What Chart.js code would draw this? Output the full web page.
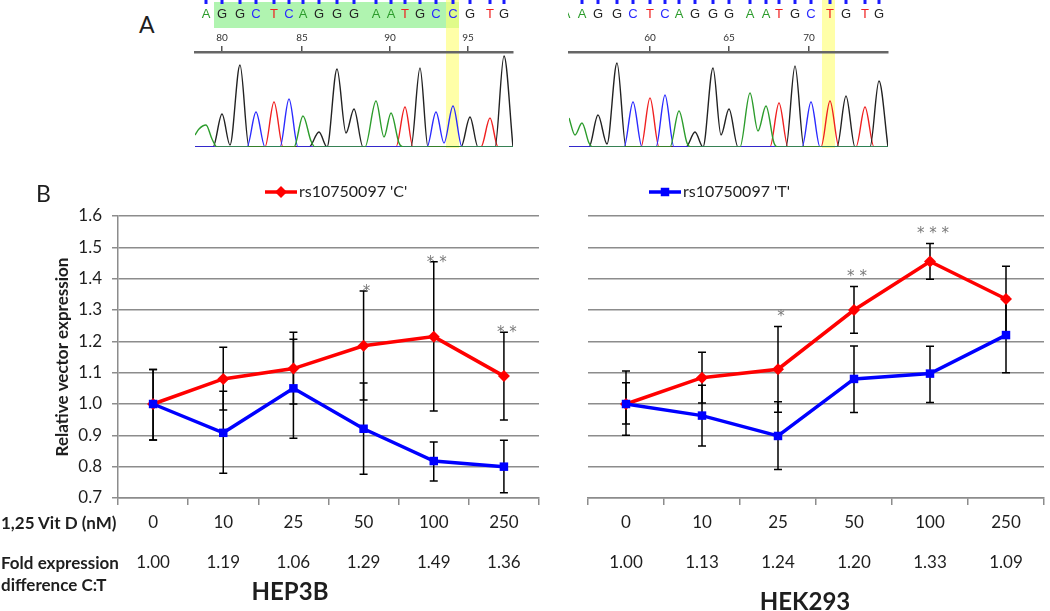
<!DOCTYPE html>
<html>
<head>
<meta charset="utf-8">
<script src="https://cdn.jsdelivr.net/npm/chart.js@4.4.1/dist/chart.umd.min.js"></script>
<style>
  body { margin: 0; background: #fff; }
  #wrap { position: relative; width: 1050px; height: 611px; overflow: hidden;
          font-family: Lato, "Open Sans", sans-serif; color: #1e1e1e; }
  .box { position: absolute; }
  .lbl { position: absolute; white-space: nowrap; line-height: 1; }
</style>
</head>
<body>
<div id="wrap">
  <div class="box" style="left:190px;top:0;width:330px;height:160px"><canvas id="chromL"></canvas></div>
  <div class="box" style="left:560px;top:0;width:335px;height:160px"><canvas id="chromR"></canvas></div>
  <div class="box" style="left:0;top:160px;width:545px;height:451px"><canvas id="hep"></canvas></div>
  <div class="box" style="left:545px;top:160px;width:505px;height:451px"><canvas id="hek"></canvas></div>

  <div class="lbl" style="left:139px;top:13px;font-size:23px">A</div>
  <div class="lbl" style="left:36px;top:182px;font-size:23px">B</div>
  <div class="lbl" style="left:1px;top:514px;font-size:17px;font-weight:bold">1,25 Vit D (nM)</div>
  <div class="lbl" style="left:1px;top:554px;font-size:17px;font-weight:bold">Fold expression</div>
  <div class="lbl" style="left:1px;top:576px;font-size:17px;font-weight:bold">difference C:T</div>
  <div class="lbl" style="left:190px;width:200px;text-align:center;top:579px;font-size:24px;font-weight:bold">HEP3B</div>
  <div class="lbl" style="left:705px;width:200px;text-align:center;top:589px;font-size:24px;font-weight:bold">HEK293</div>
</div>
<script>
// ---- panel B data ----
const doses = ['0', '10', '25', '50', '100', '250'];

const hepC   = [1.00, 1.08, 1.113, 1.186, 1.215, 1.089];
const hepCHi = [1.11, 1.181, 1.229, 1.361, 1.454, 1.229];
const hepCLo = [0.885, 0.981, 1.0, 1.013, 0.978, 0.949];
const hepT   = [1.00, 0.908, 1.05, 0.921, 0.818, 0.80];
const hepTHi = [1.11, 1.041, 1.207, 1.067, 0.879, 0.884];
const hepTLo = [0.885, 0.779, 0.891, 0.776, 0.754, 0.717];
const hepStars = ['', '', '', '*', '**', '**'];
const hepFold  = ['1.00', '1.19', '1.06', '1.29', '1.49', '1.36'];

const hekC   = [1.00, 1.084, 1.111, 1.30, 1.455, 1.335];
const hekCHi = [1.068, 1.165, 1.247, 1.375, 1.512, 1.44];
const hekCLo = [0.936, 1.003, 0.974, 1.226, 1.398, 1.23];
const hekT   = [1.00, 0.963, 0.898, 1.08, 1.097, 1.22];
const hekTHi = [1.105, 1.06, 1.007, 1.185, 1.184, 1.34];
const hekTLo = [0.90, 0.866, 0.791, 0.973, 1.005, 1.10];
const hekStars = ['', '', '*', '**', '***', ''];
const hekFold  = ['1.00', '1.13', '1.24', '1.20', '1.33', '1.09'];

const yTicks = [0.7, 0.8, 0.9, 1.0, 1.1, 1.2, 1.3, 1.4, 1.5, 1.6];

// ---- panel A data (scan position, signal) ----
const callsL   = 'AGGCTCAGGGAATGCCGTG';
const callPosL = [11, 27, 45, 61, 79, 94, 108, 124, 142, 159, 181, 196, 210, 225, 241, 258, 275, 295, 309];
const rulerPosL = [27, 107, 195, 273];
const rulerLblL = ['80', '85', '90', '95'];
const greenBoxL = [19, 264];
const yellowL   = [251, 264];
const traceAL = [[0,12],[4,18],[11,22],[17,8],[22,0],[99,0],[108,31],[116,6],[120,0],[170,0],[181,46],[189,10],[196,34],[204,4],[208,0],[318,0]];
const traceCL = [[0,0],[52,0],[61,35],[70,0],[85,0],[94,48],[103,0],[232,0],[241,35],[249,4],[258,41],[267,0],[318,0]];
const traceGL = [[0,0],[18,0],[27,33],[35,2],[45,82],[54,0],[114,0],[124,15],[132,0],[142,78],[151,14],[159,38],[168,0],[216,0],[225,79],[233,0],[266,0],[275,30],[283,0],[300,0],[309,91],[318,0]];
const traceTL = [[0,0],[70,0],[79,45],[88,0],[201,0],[210,40],[218,0],[286,0],[295,29],[303,0],[318,0]];

const callsR   = 'AAGGCTCAGGGAATGCTGTG';
const callPosR = [-3, 13, 29, 48, 64, 81, 96, 110, 126, 144, 160, 181, 197, 210, 226, 242, 261, 277, 296, 310];
const rulerPosR = [81, 160, 240];
const rulerLblR = ['60', '65', '70'];
const yellowR   = [253, 266];
const traceAR = [[0,29],[6,12],[13,24],[20,4],[24,0],[101,0],[110,36],[118,4],[122,0],[171,0],[181,54],[189,16],[197,41],[205,4],[209,0],[319,0]];
const traceCR = [[0,0],[55,0],[64,45],[73,0],[87,0],[96,52],[105,0],[233,0],[242,45],[251,0],[319,0]];
const traceGR = [[0,0],[20,0],[29,32],[38,3],[48,84],[57,0],[117,0],[126,15],[134,0],[144,79],[152,12],[160,38],[169,0],[217,0],[226,81],[235,0],[268,0],[277,51],[286,0],[301,0],[310,66],[319,0]];
const traceTR = [[0,0],[72,0],[81,49],[90,0],[201,0],[210,44],[219,0],[252,0],[261,46],[270,0],[287,0],[296,40],[305,0],[319,0]];

Chart.defaults.font.family = 'Lato, "Open Sans", sans-serif';
Chart.defaults.color = '#1e1e1e';

const baseColors = { A: '#2c9c2c', C: '#2a2aff', G: '#222222', T: '#f02020' };

// letters, quality dashes and highlight bands above the traces
const basecalls = {
  id: 'basecalls',
  beforeDraw(chart, args, o) {
    const { ctx } = chart;
    const x = chart.scales.x;
    const base = chart.scales.y.getPixelForValue(0);
    const area = chart.chartArea;
    ctx.save();
    ctx.beginPath();
    ctx.rect(area.left - 1, 0, area.right - area.left + 2, chart.height);
    ctx.clip();
    if (o.green) {
      ctx.fillStyle = 'rgba(150,240,150,0.75)';
      const a = x.getPixelForValue(o.green[0]), b = x.getPixelForValue(o.green[1]);
      ctx.fillRect(a, 2, b - a, 26);
    }
    ctx.fillStyle = 'rgba(255,255,110,0.6)';
    const ya = x.getPixelForValue(o.yellow[0]), yb = x.getPixelForValue(o.yellow[1]);
    ctx.fillRect(ya, 0, yb - ya, base + 1);
    ctx.font = '13px "Liberation Sans", Arial, sans-serif';
    ctx.textAlign = 'center';
    ctx.textBaseline = 'middle';
    o.calls.split('').forEach((c, i) => {
      const px = x.getPixelForValue(o.pos[i]);
      ctx.fillStyle = '#1a1aff';
      ctx.fillRect(px - 1.5, 0, 3, 4);
      ctx.fillStyle = baseColors[c];
      ctx.fillText(c, px, 14);
    });
    ctx.restore();
  }
};

function chrom(id, traces, maxX, ruler, labels, pad, opts) {
  const order = ['A', 'C', 'G', 'T'];
  return new Chart(document.getElementById(id), {
    type: 'line',
    data: {
      datasets: traces.map((t, i) => ({
        data: t,
        borderColor: baseColors[order[i]],
        borderWidth: 1.4,
        pointRadius: 0,
        cubicInterpolationMode: 'monotone'
      }))
    },
    options: {
      animation: false, responsive: true, maintainAspectRatio: false,
      layout: { padding: { left: pad[0], right: pad[1], top: 0, bottom: 13 } },
      plugins: { legend: { display: false }, tooltip: { enabled: false }, basecalls: opts },
      scales: {
        x: {
          type: 'linear', position: 'top', min: 0, max: maxX,
          afterBuildTicks: s => { s.ticks = ruler.map(v => ({ value: v })); },
          afterFit: s => { s.height = 52; },
          ticks: { callback: v => labels[ruler.indexOf(v)], font: { size: 10 }, color: '#333', padding: 2, maxRotation: 0 },
          grid: { drawOnChartArea: false, tickLength: 6, color: '#555', lineWidth: 1.5 },
          border: { color: '#666', width: 2.5 }
        },
        y: { display: false, min: 0, max: 95 }
      }
    },
    plugins: [basecalls]
  });
}

chrom('chromL', [traceAL, traceCL, traceGL, traceTL], 318, rulerPosL, rulerLblL, [5, 7],
      { calls: callsL, pos: callPosL, green: greenBoxL, yellow: yellowL });
chrom('chromR', [traceAR, traceCR, traceGR, traceTR], 319, rulerPosR, rulerLblR, [9, 7],
      { calls: callsR, pos: callPosR, yellow: yellowR });

// ---- panel B plugins ----
const errorBars = {
  id: 'errorBars',
  beforeDatasetsDraw(chart) {
    const { ctx } = chart;
    const { x, y } = chart.scales;
    ctx.save();
    ctx.strokeStyle = '#000';
    ctx.lineWidth = 1.5;
    chart.data.datasets.forEach(ds => {
      ds.lo.forEach((lo, i) => {
        const px = x.getPixelForValue(i);
        const t = y.getPixelForValue(ds.hi[i]), b = y.getPixelForValue(lo);
        ctx.beginPath();
        ctx.moveTo(px, t); ctx.lineTo(px, b);
        ctx.moveTo(px - 4, t); ctx.lineTo(px + 4, t);
        ctx.moveTo(px - 4, b); ctx.lineTo(px + 4, b);
        ctx.stroke();
      });
    });
    ctx.restore();
  }
};

const extras = {
  id: 'extras',
  afterDraw(chart, args, o) {
    const { ctx } = chart;
    const { x, y } = chart.scales;
    ctx.save();
    // significance stars
    ctx.fillStyle = '#7a7a7a';
    ctx.font = '15px "DejaVu Sans", sans-serif';
    ctx.textAlign = 'center';
    ctx.textBaseline = 'alphabetic';
    o.stars.forEach((s, i) => {
      if (!s) return;
      const top = Math.max(...chart.data.datasets.map(d => d.hi[i]));
      ctx.fillText(s.split('').join(' '), x.getPixelForValue(i) + 3, y.getPixelForValue(top) - o.gap + 10);
    });
    // fold-difference row
    ctx.fillStyle = '#1e1e1e';
    ctx.font = '17px Lato, "Open Sans", sans-serif';
    ctx.textBaseline = 'middle';
    o.fold.forEach((f, i) => ctx.fillText(f, x.getPixelForValue(i), o.foldY));
    // legend key for one series
    const ds = chart.data.datasets[o.key];
    ctx.strokeStyle = ds.borderColor;
    ctx.lineWidth = 3.5;
    ctx.beginPath();
    ctx.moveTo(o.keyX, o.keyY); ctx.lineTo(o.keyX + 32, o.keyY);
    ctx.stroke();
    ctx.fillStyle = ds.backgroundColor;
    Chart.helpers.drawPoint(ctx, { pointStyle: ds.pointStyle, radius: ds.pointRadius, rotation: 0, borderWidth: 0 }, o.keyX + 16, o.keyY);
    ctx.fillStyle = '#1e1e1e';
    ctx.font = '16px Lato, "Open Sans", sans-serif';
    ctx.textAlign = 'left';
    ctx.fillText(ds.label, o.keyX + 34, o.keyY);
    ctx.restore();
  }
};

function doseChart(id, c, cLo, cHi, t, tLo, tHi, left, opts) {
  return new Chart(document.getElementById(id), {
    type: 'line',
    data: {
      labels: doses,
      datasets: [
        { label: "rs10750097 'C'", data: c, lo: cLo, hi: cHi, borderColor: '#ff0000', backgroundColor: '#ff0000',
          borderWidth: 3.5, pointStyle: 'rectRot', pointRadius: 6, pointBorderWidth: 0, order: 1 },
        { label: "rs10750097 'T'", data: t, lo: tLo, hi: tHi, borderColor: '#0000ff', backgroundColor: '#0000ff',
          borderWidth: 3.5, pointStyle: 'rect', pointRadius: 6, pointBorderWidth: 0, order: 0 }
      ]
    },
    options: {
      animation: false, responsive: true, maintainAspectRatio: false,
      layout: { padding: { left: 0, right: opts.padRight, top: 56, bottom: 0 } },
      plugins: { legend: { display: false }, tooltip: { enabled: false }, extras: opts },
      scales: {
        x: {
          offset: true,
          afterFit: s => { s.height = 113; },
          grid: { offset: true, drawOnChartArea: false, tickLength: 7, color: '#8c8c8c', lineWidth: 1.5 },
          border: { color: '#8c8c8c', width: 1.5 },
          ticks: { font: { size: 17 }, color: '#1e1e1e', padding: 7 }
        },
        y: {
          min: 0.7, max: 1.6,
          afterBuildTicks: s => { s.ticks = yTicks.map(v => ({ value: v })); },
          afterFit: s => { s.width = left; },
          ticks: { display: opts.yLabels, callback: v => v.toFixed(1), font: { size: 17 }, color: '#1e1e1e', padding: 10 },
          grid: { color: '#8c8c8c', lineWidth: 1.5, tickLength: 6, drawTicks: opts.yLabels },
          border: { display: opts.yLabels, color: '#8c8c8c', width: 1.5 },
          title: { display: opts.yLabels, text: 'Relative vector expression', font: { size: 17, weight: 'bold' },
                   color: '#1e1e1e', padding: { top: 52, bottom: 0 } }
        }
      }
    },
    plugins: [errorBars, extras]
  });
}

doseChart('hep', hepC, hepCLo, hepCHi, hepT, hepTLo, hepTHi, 118,
  { yLabels: true, padRight: 4, stars: hepStars, gap: 5, fold: hepFold, foldY: 403, key: 0, keyX: 265, keyY: 32 });
doseChart('hek', hekC, hekCLo, hekCHi, hekT, hekTLo, hekTHi, 43,
  { yLabels: false, padRight: 3, stars: hekStars, gap: 16, fold: hekFold, foldY: 403, key: 1, keyX: 104, keyY: 32 });
</script>
</body>
</html>
